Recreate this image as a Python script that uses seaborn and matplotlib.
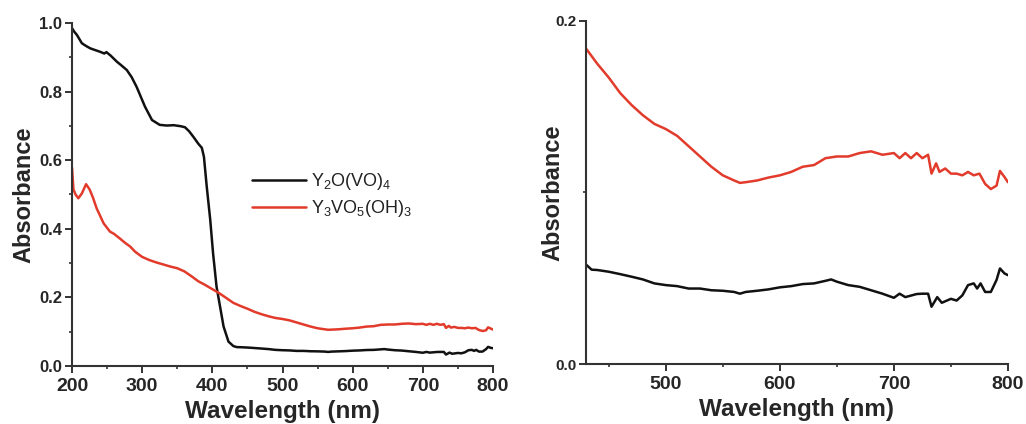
import numpy as np
import pandas as pd
import matplotlib
matplotlib.use("Agg")
import matplotlib.pyplot as plt
from matplotlib.ticker import MultipleLocator, FixedLocator
import seaborn as sns

# ---------------- data ----------------
wl_black = [200, 203, 207, 214, 220, 226, 233, 240, 246, 249, 255, 264, 270, 278, 285,
            292, 298, 304, 314, 325, 335, 345, 355, 361, 367, 373, 380, 385, 388, 392,
            397, 401, 406, 411, 416, 423, 430, 435, 440, 450, 460, 470, 480, 490, 500,
            510, 520, 530, 540, 550, 560, 565, 570, 580, 590, 600, 610, 620, 630, 640,
            645, 650, 660, 670, 680, 690, 700, 705, 710, 720, 725, 730, 733, 738, 742,
            750, 755, 760, 765, 770, 773, 776, 780, 785, 790, 793, 797, 800]
abs_black = [0.985, 0.975, 0.965, 0.941, 0.933, 0.926, 0.921, 0.916, 0.911, 0.915, 0.905,
             0.887, 0.877, 0.863, 0.842, 0.814, 0.785, 0.756, 0.717, 0.703, 0.701, 0.702,
             0.699, 0.696, 0.684, 0.668, 0.648, 0.636, 0.61, 0.523, 0.426, 0.329, 0.231,
             0.173, 0.115, 0.071, 0.058, 0.055, 0.0548, 0.0538, 0.0524, 0.0509, 0.0493,
             0.047, 0.046, 0.0454, 0.044, 0.044, 0.043, 0.0427, 0.042, 0.041, 0.042,
             0.0427, 0.0435, 0.0447, 0.0454, 0.0466, 0.047, 0.0485, 0.0493, 0.048, 0.046,
             0.045, 0.043, 0.041, 0.0386, 0.041, 0.039, 0.0408, 0.041, 0.041, 0.0334,
             0.039, 0.0357, 0.038, 0.037, 0.040, 0.046, 0.047, 0.044, 0.047, 0.042,
             0.042, 0.049, 0.0557, 0.0528, 0.0518]

wl_red = [200, 202, 205, 209, 214, 220, 225, 230, 235, 240, 245, 254, 260, 268, 275, 283,
          290, 300, 310, 320, 330, 340, 350, 360, 370, 380, 390, 400, 410, 420, 430, 440,
          450, 460, 470, 480, 490, 500, 510, 520, 530, 540, 550, 560, 565, 570, 580, 590,
          600, 610, 620, 630, 640, 650, 660, 670, 680, 690, 700, 705, 710, 715, 720, 725,
          730, 733, 737, 740, 745, 750, 755, 760, 765, 770, 775, 780, 785, 790, 793, 797,
          800]
abs_red = [0.578, 0.515, 0.500, 0.489, 0.503, 0.530, 0.515, 0.490, 0.460, 0.438, 0.416,
           0.392, 0.385, 0.372, 0.360, 0.348, 0.333, 0.318, 0.309, 0.302, 0.296, 0.290,
           0.285, 0.276, 0.262, 0.247, 0.236, 0.224, 0.212, 0.198, 0.184, 0.175, 0.167,
           0.158, 0.151, 0.145, 0.140, 0.137, 0.133, 0.127, 0.121, 0.115, 0.110, 0.107,
           0.1056, 0.106, 0.107, 0.1087, 0.110, 0.112, 0.115, 0.116, 0.120, 0.121, 0.121,
           0.123, 0.124, 0.122, 0.123, 0.120, 0.123, 0.120, 0.123, 0.120, 0.122, 0.111,
           0.117, 0.112, 0.114, 0.111, 0.111, 0.110, 0.112, 0.110, 0.111, 0.105, 0.102,
           0.104, 0.1126, 0.109, 0.106]

labels = [r"Y$_2$O(VO)$_4$", r"Y$_3$VO$_5$(OH)$_3$"]
colors = ["#111111", "#e23b2c"]

left_xticks = [200, 300, 400, 500, 600, 700, 800]
left_yticks = [0.0, 0.2, 0.4, 0.6, 0.8, 1.0]
right_xticks = [500, 600, 700, 800]
right_yticks = [0.0, 0.2]

x_label = "Wavelength (nm)"
y_label = "Absorbance"

df = pd.concat([
    pd.DataFrame({"wl": wl_black, "A": abs_black, "sample": labels[0]}),
    pd.DataFrame({"wl": wl_red, "A": abs_red, "sample": labels[1]}),
], ignore_index=True)

# ---------------- style ----------------
sns.set_style("ticks")
plt.rcParams["font.family"] = ["Liberation Sans", "DejaVu Sans"]
plt.rcParams["mathtext.default"] = "regular"
axis_color = "#333333"

fig = plt.figure(figsize=(10.26, 4.24), dpi=100)
ax1 = fig.add_axes([0.0702, 0.1368, 0.4103, 0.809])
ax2 = fig.add_axes([0.5711, 0.1415, 0.4113, 0.809])

palette = dict(zip(labels, colors))

for ax in (ax1, ax2):
    sns.lineplot(data=df, x="wl", y="A", hue="sample", palette=palette,
                 linewidth=1.8, ax=ax, legend=(ax is ax1), sort=False,
                 estimator=None)
    for side in ("top", "right"):
        ax.spines[side].set_visible(False)
    for side in ("left", "bottom"):
        ax.spines[side].set_linewidth(1.5)
        ax.spines[side].set_color(axis_color)
    ax.tick_params(which="major", direction="out", length=5, width=1.4,
                   color=axis_color)
    ax.tick_params(which="minor", direction="out", length=2.5, width=1.2,
                   color=axis_color)
    ax.tick_params(axis="x", pad=3.5)
    ax.tick_params(axis="y", pad=2)
    ax.set_xlabel(x_label, fontsize=17.5, fontweight="bold", labelpad=0)
    ax.set_ylabel(y_label, fontsize=17, fontweight="bold")

# left panel
ax1.set_xticks(left_xticks)
ax1.set_xticklabels([f"{v}" for v in left_xticks], fontweight="bold", fontsize=14)
ax1.set_yticks(left_yticks)
ax1.set_yticklabels([f"{v:.1f}" for v in left_yticks], fontweight="bold", fontsize=12)
ax1.xaxis.set_minor_locator(MultipleLocator(50))
ax1.yaxis.set_minor_locator(MultipleLocator(0.1))
ax1.set_xlim(200, 800)
ax1.set_ylim(0, 1.0)
ax1.yaxis.set_label_coords(-0.088, 0.5)
ax1.xaxis.set_label_coords(0.5, -0.1)

leg = ax1.legend(loc="upper left", bbox_to_anchor=(0.41, 0.59), frameon=False,
                 fontsize=13, handlelength=3.0, handletextpad=0.3, labelspacing=0.35,
                 borderaxespad=0)
for line in leg.get_lines():
    line.set_linewidth(1.8)
for t in leg.get_texts():
    t.set_color("#222222")

# right panel (zoom of 430-800 nm)
ax2.set_xticks(right_xticks)
ax2.set_xticklabels([f"{v}" for v in right_xticks], fontweight="bold", fontsize=14)
ax2.set_yticks(right_yticks)
ax2.set_yticklabels([f"{v:.1f}" for v in right_yticks], fontweight="bold", fontsize=11)
ax2.xaxis.set_minor_locator(MultipleLocator(50))
ax2.yaxis.set_minor_locator(FixedLocator([0.1]))
ax2.set_xlim(430, 800)
ax2.set_ylim(0, 0.2)
ax2.yaxis.set_label_coords(-0.052, 0.5)
ax2.xaxis.set_label_coords(0.5, -0.1)

fig.savefig("out.png", dpi=100)
